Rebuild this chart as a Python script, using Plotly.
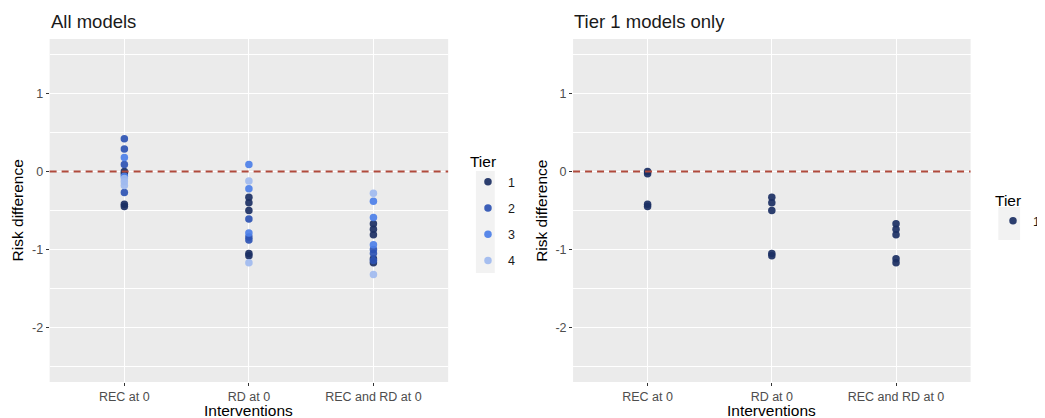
import plotly.graph_objects as go

# The page body has an 8px margin; the figure is sized and laid out to
# compensate so that it lands on the 1045x418 window exactly.
PAD = 8
W, H = 1045 - PAD, 418 - PAD

interventions = ["REC at 0", "RD at 0", "REC and RD at 0"]
tiers = ["1", "2", "3", "4"]
tier_colors = ["#1b2f63", "#2c53b3", "#4c7fe8", "#9fbaef"]

# values, per tier: (intervention, risk difference)
tier1_x = ["REC at 0"] * 4 + ["RD at 0"] * 5 + ["REC and RD at 0"] * 5
tier1_y = [0.00, -0.03, -0.42, -0.45,
           -0.33, -0.40, -0.50, -1.05, -1.08,
           -0.67, -0.74, -0.81, -1.12, -1.17]
tier2_x = ["REC at 0"] * 4 + ["RD at 0"] * 3 + ["REC and RD at 0"] * 3
tier2_y = [0.42, 0.29, 0.09, -0.27,
           -0.61, -0.84, -0.88,
           -1.00, -1.05, -1.14]
tier3_x = ["REC at 0"] * 2 + ["RD at 0"] * 3 + ["REC and RD at 0"] * 3
tier3_y = [0.18, -0.06,
           0.09, -0.22, -0.79,
           -0.38, -0.59, -0.94]
tier4_x = ["REC at 0"] * 3 + ["RD at 0"] * 2 + ["REC and RD at 0"] * 2
tier4_y = [-0.09, -0.13, -0.18,
           -0.12, -1.17,
           -0.28, -1.32]

tier_x = [tier1_x, tier2_x, tier3_x, tier4_x]
tier_y = [tier1_y, tier2_y, tier3_y, tier4_y]

panel_titles = ["All models", "Tier 1 models only"]
x_title = "Interventions"
y_title = "Risk difference"
y_ticks = [1, 0, -1, -2]
y_range = [-2.7, 1.7]


def fx(p):
    return (p - PAD) / W


def fy(p):
    return 1 - (p - PAD) / H


FONT = "Liberation Sans, Arial, sans-serif"
fig = go.Figure()

# left panel: all tiers
for i, t in enumerate(tiers):
    fig.add_trace(go.Scatter(
        x=tier_x[i], y=tier_y[i], mode="markers", name=t,
        marker=dict(color=tier_colors[i], size=7.5, opacity=0.92),
        xaxis="x", yaxis="y", legend="legend", legendgroup="L" + t,
    ))

# right panel: tier 1 only
fig.add_trace(go.Scatter(
    x=tier1_x, y=tier1_y, mode="markers", name="1",
    marker=dict(color=tier_colors[0], size=7.5, opacity=0.92),
    xaxis="x2", yaxis="y2", legend="legend2", legendgroup="R1",
))

panels = [(50, 452), (578, 979)]
top, bottom = 39, 382

axis_common = dict(
    showline=False, ticks="outside", ticklen=3, tickwidth=1, tickcolor="#333333",
    tickfont=dict(family=FONT, size=12.5, color="#4d4d4d"),
    gridcolor="#ffffff", gridwidth=1.1, zeroline=False,
)
for k, (l, r) in enumerate(panels):
    sx = "" if k == 0 else "2"
    fig.layout["xaxis" + sx] = dict(
        axis_common, domain=[fx(l), fx(r)], anchor="y" + sx,
        type="category", categoryorder="array", categoryarray=interventions,
        range=[-0.6, 2.6], showgrid=True,
    )
    fig.layout["yaxis" + sx] = dict(
        axis_common, domain=[fy(bottom), fy(top)], anchor="x" + sx,
        range=y_range, tickvals=y_ticks, ticktext=[str(v) for v in y_ticks],
        showgrid=True,
        minor=dict(tickvals=[1.5, 0.5, -0.5, -1.5, -2.5], showgrid=True,
                   gridcolor="#ffffff", gridwidth=0.55, ticks=""),
    )
    # dashed zero reference line
    fig.add_shape(type="line", xref=("x" + sx + " domain"), yref="y" + sx,
                  x0=0, x1=1, y0=0, y1=0,
                  line=dict(color="#b04a3c", width=1.8, dash="7px,5px"))
    # panel title
    fig.add_annotation(text=panel_titles[k], xref="paper", yref="paper",
                       x=fx(l - 1), y=fy(21), xanchor="left", yanchor="middle",
                       showarrow=False,
                       font=dict(family=FONT, size=18.5, color="#1a1a1a"))
    # axis titles
    fig.add_annotation(text=x_title, xref="paper", yref="paper",
                       x=fx((l + r) / 2), y=fy(410), xanchor="center", yanchor="middle",
                       showarrow=False,
                       font=dict(family=FONT, size=15.5, color="#000000"))
    fig.add_annotation(text=y_title, xref="paper", yref="paper",
                       x=fx(l - 32), y=fy((top + bottom) / 2), xanchor="center",
                       yanchor="middle", textangle=-90, showarrow=False,
                       font=dict(family=FONT, size=15.5, color="#000000"))

# gray key backgrounds for the legends
fig.add_shape(type="rect", xref="paper", yref="paper", layer="below",
              x0=fx(480), x1=fx(499), y0=fy(273), y1=fy(171),
              fillcolor="#f2f2f2", line=dict(width=0))
fig.add_shape(type="rect", xref="paper", yref="paper", layer="below",
              x0=fx(1007), x1=fx(1029), y0=fy(240), y1=fy(207),
              fillcolor="#f2f2f2", line=dict(width=0))

legend_common = dict(
    bgcolor="rgba(0,0,0,0)", borderwidth=0,
    font=dict(family=FONT, size=12.5, color="#1a1a1a"),
    title=dict(font=dict(family=FONT, size=15.5, color="#000000")),
    tracegroupgap=7, itemclick=False, itemdoubleclick=False,
)
fig.update_layout(
    width=W, height=H,
    margin=dict(l=0, r=0, t=0, b=0),
    paper_bgcolor="#ffffff", plot_bgcolor="#ebebeb",
    font=dict(family=FONT),
    showlegend=True,
    legend=dict(legend_common, title_text="Tier", x=fx(472), y=fy(147),
                xanchor="left", yanchor="top"),
    legend2=dict(legend_common, title_text="Tier", x=fx(1002), y=fy(186),
                 xanchor="left", yanchor="top"),
)

fig.write_html("out.html")
